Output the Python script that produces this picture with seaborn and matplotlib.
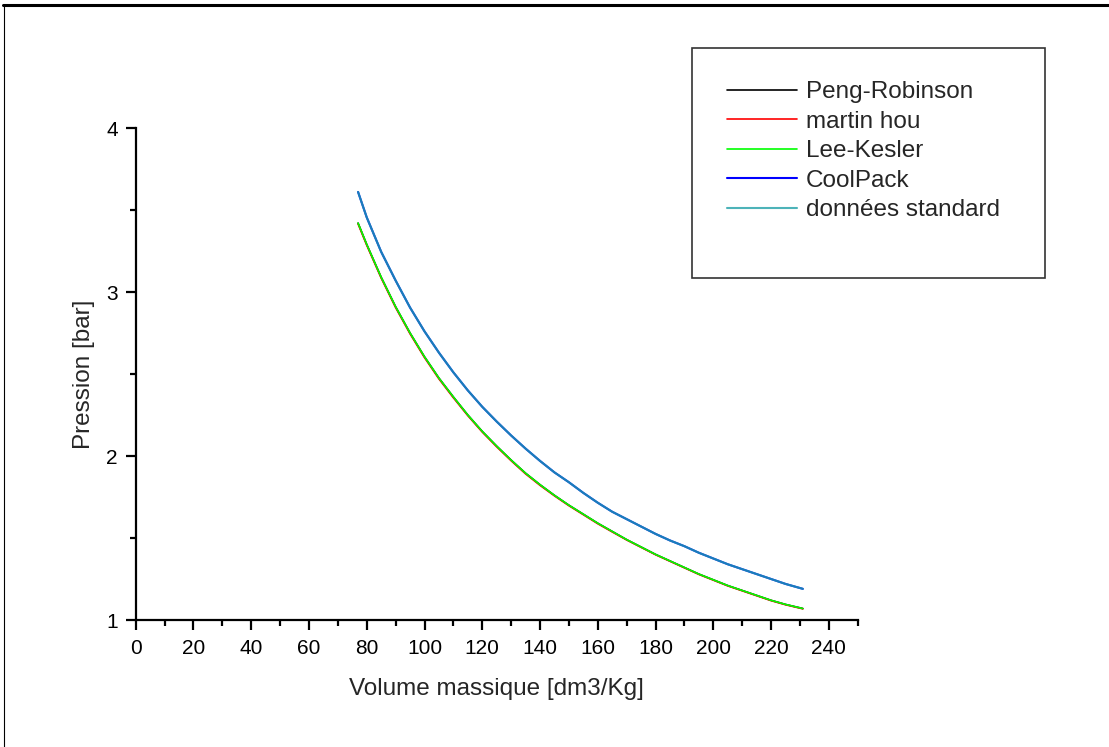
import matplotlib
matplotlib.use("Agg")
import matplotlib.pyplot as plt
import seaborn as sns
import pandas as pd
from matplotlib.lines import Line2D
from matplotlib.patches import Rectangle
from matplotlib.ticker import MultipleLocator

# ---- data ----
volume = [77, 80, 85, 90, 95, 100, 105, 110, 115, 120, 125, 130, 135, 140, 145, 150, 155,
          160, 165, 170, 175, 180, 185, 190, 195, 200, 205, 210, 215, 220, 225, 231]
peng_robinson = [3.42, 3.29, 3.09, 2.91, 2.75, 2.605, 2.475, 2.36, 2.25, 2.15, 2.06, 1.975, 1.895, 1.825,
                 1.76, 1.70, 1.645, 1.59, 1.54, 1.49, 1.445, 1.40, 1.36, 1.32, 1.28, 1.245, 1.21, 1.18,
                 1.15, 1.12, 1.095, 1.07]
martin_hou = [3.415, 3.285, 3.085, 2.905, 2.745, 2.60, 2.47, 2.355, 2.246, 2.146, 2.056, 1.971, 1.891,
              1.821, 1.757, 1.697, 1.642, 1.587, 1.537, 1.488, 1.443, 1.398, 1.358, 1.318, 1.278, 1.243,
              1.208, 1.178, 1.148, 1.118, 1.093, 1.068]
lee_kesler = [3.42, 3.29, 3.09, 2.91, 2.75, 2.605, 2.475, 2.36, 2.25, 2.15, 2.06, 1.975, 1.895, 1.825,
              1.76, 1.70, 1.645, 1.59, 1.54, 1.49, 1.445, 1.40, 1.36, 1.32, 1.28, 1.245, 1.21, 1.18,
              1.15, 1.12, 1.095, 1.07]
coolpack = [3.61, 3.455, 3.245, 3.07, 2.905, 2.76, 2.63, 2.51, 2.40, 2.30, 2.21, 2.125, 2.045, 1.97, 1.90,
            1.84, 1.775, 1.715, 1.66, 1.615, 1.57, 1.525, 1.485, 1.45, 1.41, 1.375, 1.34, 1.31, 1.28,
            1.25, 1.22, 1.19]
standard = [3.61, 3.455, 3.245, 3.07, 2.905, 2.76, 2.63, 2.51, 2.40, 2.30, 2.21, 2.125, 2.045, 1.97, 1.90,
            1.84, 1.775, 1.715, 1.66, 1.615, 1.57, 1.525, 1.485, 1.45, 1.41, 1.375, 1.34, 1.31, 1.28,
            1.25, 1.22, 1.19]

series_names = ["Peng-Robinson", "martin hou", "Lee-Kesler", "CoolPack", "données standard"]
series_values = [peng_robinson, martin_hou, lee_kesler, coolpack, standard]
series_colors = ["#000000", "#ff0000", "#00ff00", "#0000ff", "#20a0a8"]
series_alpha = [1.0, 1.0, 1.0, 1.0, 0.8]
series_lw = [1.2, 1.2, 1.2, 1.5, 1.5]

x_label = "Volume massique [dm3/Kg]"
y_label = "Pression [bar]"

sns.set_style("ticks")
plt.rcParams["font.family"] = ["Liberation Sans", "DejaVu Sans"]

W, H = 1109, 747
fig = plt.figure(figsize=(W / 100, H / 100), dpi=100)
ax = fig.add_axes([135.7 / W, 1 - 620 / H, (857.7 - 135.7) / W, (620 - 128) / H])

handles = []
for name, vals, col, a, lw in zip(series_names, series_values, series_colors, series_alpha, series_lw):
    df = pd.DataFrame({"v": volume, "p": vals})
    sns.lineplot(data=df, x="v", y="p", ax=ax, color=col, alpha=a, linewidth=lw, label=name, legend=False)
    handles.append(Line2D([], [], color=col, alpha=a, linewidth=lw))

ax.set_xlim(0, 250)
ax.set_ylim(1, 4)
ax.xaxis.set_minor_locator(MultipleLocator(10))
ax.yaxis.set_major_locator(MultipleLocator(1))
ax.yaxis.set_minor_locator(MultipleLocator(0.5))
ax.set_xticks(range(0, 241, 20))
sns.despine(ax=ax)
for s in ["left", "bottom"]:
    ax.spines[s].set_linewidth(1.6)
    ax.spines[s].set_color("black")
ax.tick_params(which="major", direction="out", length=7, width=1.6, color="black",
               labelsize=15, labelcolor="black")
ax.tick_params(axis="x", which="major", pad=7)
ax.tick_params(axis="y", which="major", pad=6)
ax.tick_params(which="minor", direction="out", length=4, width=1.6, color="black")
ax.set_xlabel(x_label, fontsize=17.5, labelpad=14)
ax.set_ylabel(y_label, fontsize=17.5, labelpad=8)

# legend box and legend
fig.add_artist(Rectangle((692 / W, 1 - 278 / H), (1045 - 692) / W, (278 - 48) / H,
                         transform=fig.transFigure, fill=False, edgecolor="#333333", linewidth=1.2))
fig.legend(handles, series_names, loc="upper left", bbox_to_anchor=(727 / W, 1 - 81 / H),
           frameon=False, fontsize=17.5, handlelength=2.9, handletextpad=0.35,
           labelspacing=0.31, borderpad=0, borderaxespad=0)

# page border
fig.add_artist(Line2D([3 / W, 1], [1 - 4.5 / H, 1 - 4.5 / H], transform=fig.transFigure, color="black", linewidth=2.2))
fig.add_artist(Line2D([3.5 / W, 3.5 / W], [0, 1 - 4.5 / H], transform=fig.transFigure, color="black", linewidth=0.8))

fig.savefig("out.png", dpi=100)
